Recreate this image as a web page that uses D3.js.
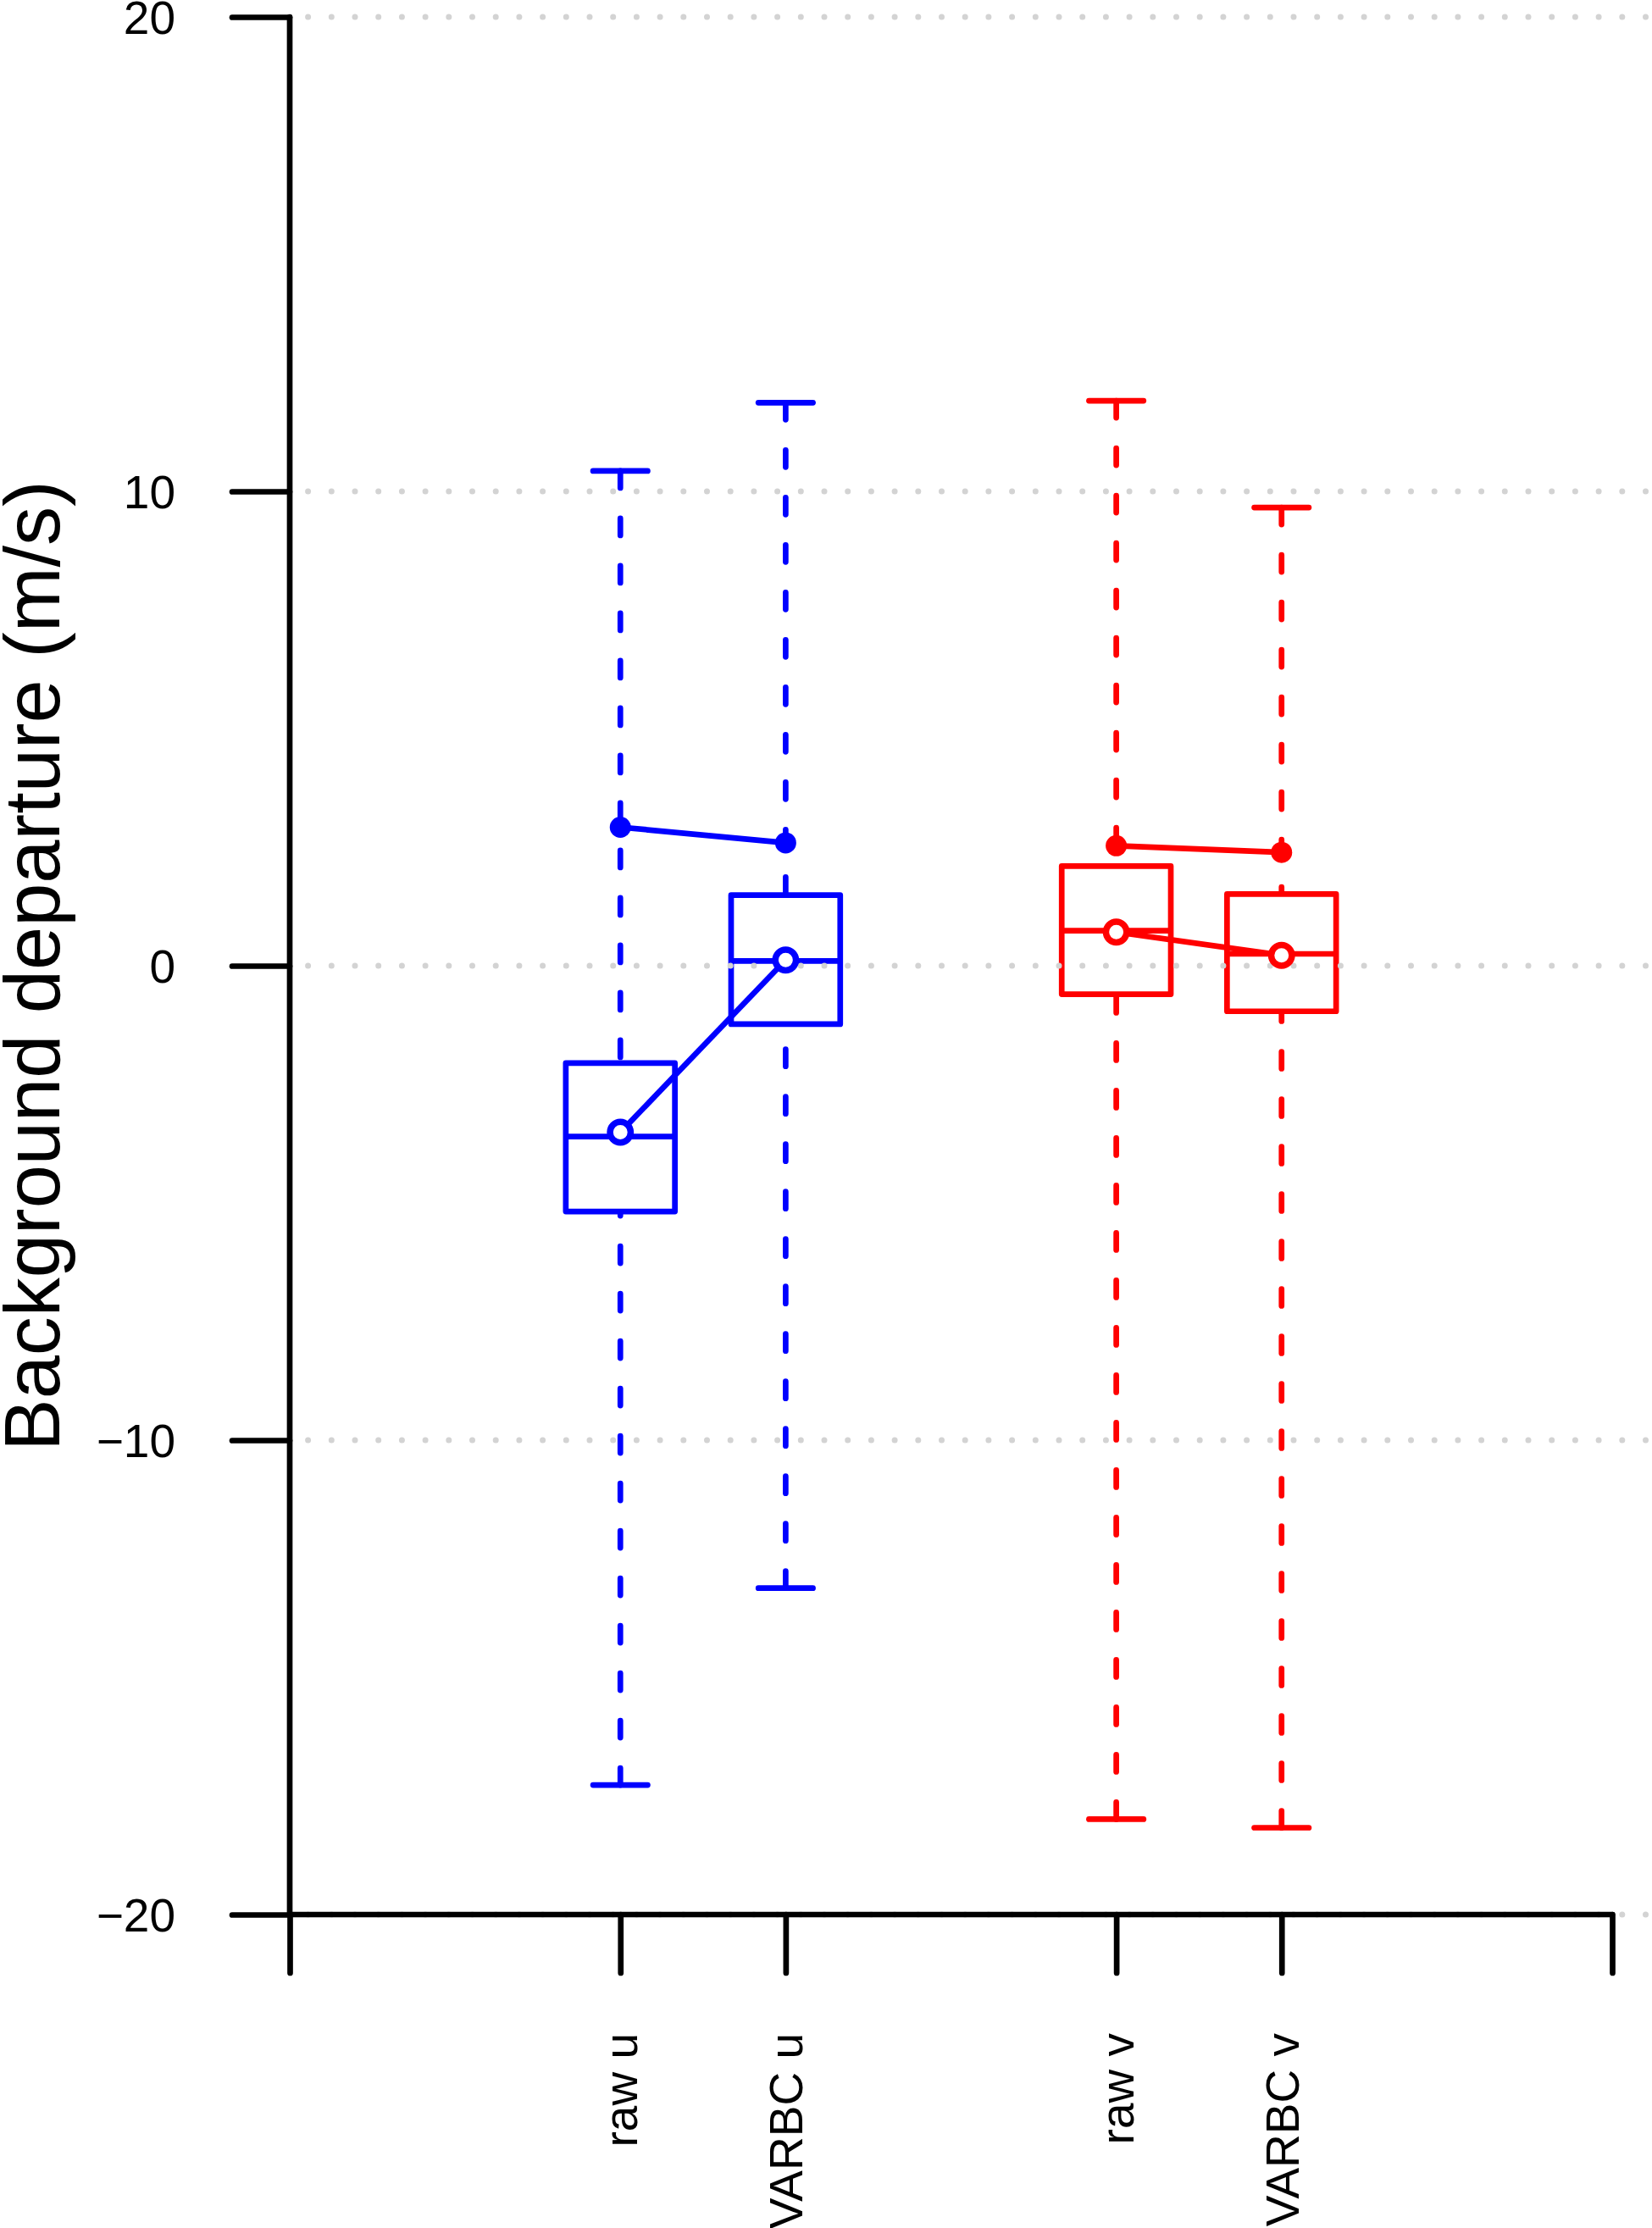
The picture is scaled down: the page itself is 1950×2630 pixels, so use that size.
<!DOCTYPE html>
<html>
<head>
<meta charset="utf-8">
<script src="https://cdn.jsdelivr.net/npm/d3@7"></script>
<style>
  html, body { margin: 0; padding: 0; background: #fff; }
  svg { display: block; }
  text { font-family: "Liberation Sans", Arial, Helvetica, sans-serif; fill: #000; }
</style>
</head>
<body>
<script>
// ---- data ----
const categories   = ["raw u", "VARBC u", "raw v", "VARBC v"];
const positions    = [2, 3, 5, 6];
const groupColor   = ["blue", "blue", "red", "red"];
const whiskerLow   = [-17.27, -13.12, -17.99, -18.17];
const lowerHinge   = [-5.18, -1.23, -0.60, -0.96];
const medians      = [-3.60, 0.10, 0.74, 0.25];
const upperHinge   = [-2.05, 1.49, 2.10, 1.51];
const whiskerHigh  = [10.43, 11.87, 11.91, 9.66];
const means        = [-3.51, 0.12, 0.71, 0.22];
const stdDevs      = [2.92, 2.59, 2.53, 2.39];
const yTicks       = [-20, -10, 0, 10, 20];
const xAxisTicks   = [0, 2, 3, 5, 6, 8];
const yTitle       = "Background departure (m/s)";
const groups       = [[0, 1], [2, 3]];

// ---- layout ----
const W = 1950, H = 2630;
const x = d3.scaleLinear().domain([0, 8]).range([342, 1903]);
const y = d3.scaleLinear().domain([-20, 20]).range([2260, 20]);
const boxHalf = 0.33, capHalf = 0.165;
const LW = 6.7;

const svg = d3.select("body").append("svg").attr("width", W).attr("height", H);

const data = categories.map((c, i) => ({
  name: c, pos: positions[i], color: groupColor[i],
  lo: whiskerLow[i], q1: lowerHinge[i], med: medians[i], q3: upperHinge[i], hi: whiskerHigh[i],
  mean: means[i], sd: stdDevs[i]
}));

// ---- boxes ----
const gBox = svg.append("g");
data.forEach(d => {
  const g = gBox.append("g").attr("stroke", d.color).attr("fill", "none")
    .attr("stroke-width", LW);
  // whiskers (dashed), drawn from whisker end toward hinge
  [[d.hi, d.q3], [d.lo, d.q1]].forEach(([a, b]) => {
    g.append("line").attr("x1", x(d.pos)).attr("x2", x(d.pos))
      .attr("y1", y(a)).attr("y2", y(b))
      .attr("stroke-dasharray", "20,36").attr("stroke-linecap", "round");
    g.append("line").attr("x1", x(d.pos - capHalf)).attr("x2", x(d.pos + capHalf))
      .attr("y1", y(a)).attr("y2", y(a)).attr("stroke-linecap", "round");
  });
  g.append("rect")
    .attr("x", x(d.pos - boxHalf)).attr("width", x(d.pos + boxHalf) - x(d.pos - boxHalf))
    .attr("y", y(d.q3)).attr("height", y(d.q1) - y(d.q3))
    .attr("fill", "white").attr("stroke-linejoin", "round");
  g.append("line").attr("x1", x(d.pos - boxHalf)).attr("x2", x(d.pos + boxHalf))
    .attr("y1", y(d.med)).attr("y2", y(d.med));
});

// ---- grid (dotted, light gray) ----
const gGrid = svg.append("g");
yTicks.forEach(t => {
  gGrid.append("line").attr("x1", 363.6).attr("x2", W + 20)
    .attr("y1", y(t)).attr("y2", y(t))
    .attr("stroke", "#d3d3d3").attr("stroke-width", 7)
    .attr("stroke-linecap", "round").attr("stroke-dasharray", "0,27.7");
});

// ---- mean and sd lines with points ----
const line = d3.line().x(d => x(d.pos));
groups.forEach(idx => {
  const pts = idx.map(i => data[i]);
  const col = pts[0].color;
  svg.append("path").datum(pts).attr("d", line.y(d => y(d.sd)))
    .attr("fill", "none").attr("stroke", col).attr("stroke-width", LW);
  svg.append("path").datum(pts).attr("d", line.y(d => y(d.mean)))
    .attr("fill", "none").attr("stroke", col).attr("stroke-width", LW);
  pts.forEach(d => {
    svg.append("circle").attr("cx", x(d.pos)).attr("cy", y(d.sd)).attr("r", 12.5)
      .attr("fill", col);
    svg.append("circle").attr("cx", x(d.pos)).attr("cy", y(d.mean)).attr("r", 12.2)
      .attr("fill", "white").attr("stroke", col).attr("stroke-width", 7.5);
  });
});

// ---- axes ----
const yAxis = d3.axisLeft(y).tickValues(yTicks).tickSize(68).tickPadding(67)
  .tickFormat(d => d < 0 ? "\u2212" + Math.abs(d) : String(d));
const gy = svg.append("g").attr("transform", `translate(${x(0)},0)`).call(yAxis);
gy.select(".domain").remove();
gy.append("line").attr("x1", 0).attr("x2", 0).attr("y1", y(20)).attr("y2", y(-20))
  .attr("stroke", "#000").attr("stroke-width", LW).attr("stroke-linecap", "round");
gy.selectAll(".tick line").attr("stroke", "#000").attr("stroke-width", LW).attr("stroke-linecap", "round");
gy.selectAll(".tick text").attr("font-size", 55).attr("dy", "0.36em")
  .style("font-family", '"Liberation Sans", Arial, sans-serif');

const xAxis = d3.axisBottom(x).tickValues(xAxisTicks).tickSize(69).tickFormat("");
const gx = svg.append("g").attr("transform", `translate(0,${y(-20)})`).call(xAxis);
gx.select(".domain").remove();
gx.append("line").attr("x1", x(0)).attr("x2", x(8)).attr("y1", 0).attr("y2", 0)
  .attr("stroke", "#000").attr("stroke-width", LW).attr("stroke-linecap", "round");
gx.selectAll(".tick line").attr("stroke", "#000").attr("stroke-width", LW).attr("stroke-linecap", "round");

// category labels (rotated)
data.forEach(d => {
  svg.append("text")
    .attr("transform", `translate(${x(d.pos) + 20},2400) rotate(-90)`)
    .attr("text-anchor", "end").attr("font-size", 55)
    .text(d.name);
});

// y title
svg.append("text")
  .attr("transform", `translate(70,${y(0)}) rotate(-90)`)
  .attr("text-anchor", "middle").attr("font-size", 92)
  .text(yTitle);
</script>
</body>
</html>
